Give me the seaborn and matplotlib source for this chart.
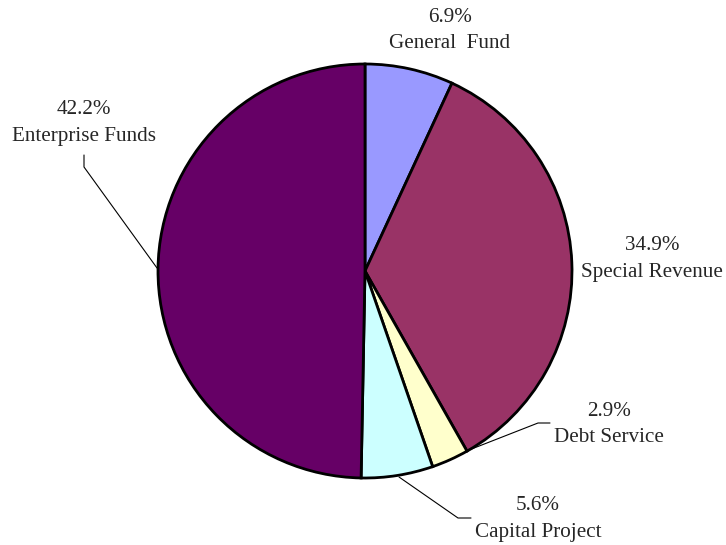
import matplotlib
matplotlib.use("Agg")
import matplotlib.pyplot as plt
import seaborn as sns

sns.set_style("white")
plt.rcParams['font.family'] = ['Liberation Serif', 'DejaVu Serif']

# Data
categories = ["General  Fund", "Special Revenue", "Debt Service", "Capital Project", "Enterprise Funds"]
slice_shares = [6.9, 34.9, 2.9, 5.6, 49.7]          # drawn slice sizes
pct_labels = ["6.9%", "34.9%", "2.9%", "5.6%", "42.2%"]  # printed labels
colors = ["#9999FF", "#993366", "#FFFFCC", "#CCFFFF", "#660066"]

W, H = 726, 545
fig = plt.figure(figsize=(W / 100, H / 100), dpi=100)
ax = fig.add_axes([0, 0, 1, 1])

cx, cy, r = 365, H - 271, 207
ax.pie(slice_shares, colors=colors, startangle=90, counterclock=False,
       center=(cx, cy), radius=r, frame=True,
       wedgeprops=dict(edgecolor='black', linewidth=2))
ax.set_xlim(0, W)
ax.set_ylim(0, H)
ax.set_aspect('equal')
ax.axis('off')

# label positions (pixel coords from top-left)
label_pos = [(450, 17, 43), (652, 245, 273), (609, 412, 438), (538, 505, 532), (84, 110, 137)]
fs = 15.2
for name, pct, (x, y1, y2) in zip(categories, pct_labels, label_pos):
    ax.text(x, H - y1, pct, ha='center', va='center', fontsize=fs)
    ax.text(x, H - y2, name, ha='center', va='center', fontsize=fs)

# leader lines
leaders = [
    [(157, 268), (84, 167), (84, 155)],
    [(469, 450), (538, 423), (550, 423)],
    [(399, 477), (458, 518), (471, 518)],
]
for pts in leaders:
    xs = [p[0] for p in pts]
    ys = [H - p[1] for p in pts]
    ax.plot(xs, ys, color='black', linewidth=0.8)

fig.savefig("out.png", dpi=100)
